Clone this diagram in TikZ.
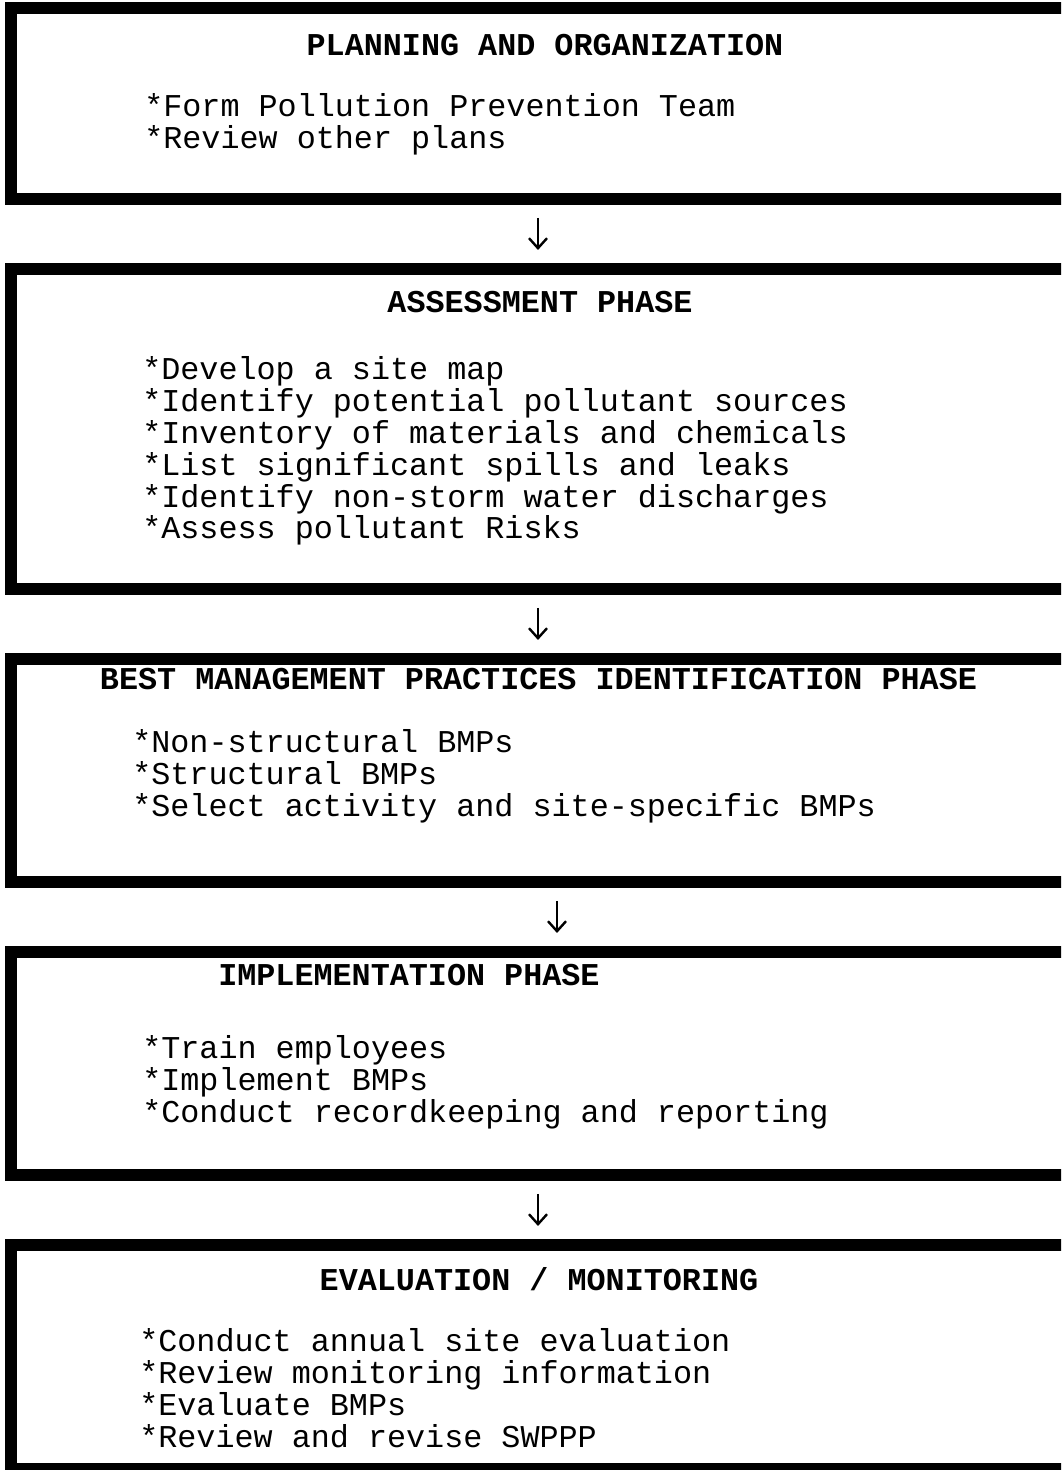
\documentclass[tikz,border=0pt]{standalone}
\usepackage{fontspec}
\setmonofont{Liberation Mono}
\usetikzlibrary{positioning,arrows.meta}
\tikzstyle{phasebox} = [rectangle, draw=black, line width=0.3cm, outer sep=0pt, minimum width=26.6cm]
\tikzstyle{head} = [font=\ttfamily\bfseries\fontsize{22.6}{22.6}\selectfont, anchor=base, inner sep=0pt]
\tikzstyle{item} = [font=\ttfamily\fontsize{22.6}{22.6}\selectfont, anchor=base west, inner sep=0pt]
\tikzstyle{flow} = [-{Straight Barb[length=0.25cm,width=0.45cm]}, line width=0.06cm, shorten <=0.475cm, shorten >=0.475cm]

\begin{document}
\begin{tikzpicture}
            \useasboundingbox (0,0) rectangle (26.525,36.75);
            \clip (0,0) rectangle (26.525,36.75);

            % Phase boxes
            \node(plan) [phasebox, minimum height=4.775cm] at (13.575,34.1625) {};
            \node(assess) [phasebox, minimum height=8cm, below=1.75cm of plan] {};
            \node(bmp) [phasebox, minimum height=5.575cm, below=1.75cm of assess] {};
            \node(implement) [phasebox, minimum height=5.575cm, below=1.75cm of bmp] {};
            \node(evaluate) [phasebox, minimum height=5.6cm, below=1.75cm of implement] {};

            % Headings
            \node(planhead) [head] at ([xshift=13.35cm, yshift=-1.2cm]plan.north west) {PLANNING AND ORGANIZATION};
            \node(assesshead) [head] at ([xshift=13.225cm, yshift=-1.1cm]assess.north west) {ASSESSMENT PHASE};
            \node(bmphead) [head] at ([xshift=13.1875cm, yshift=-0.7625cm]bmp.north west) {BEST MANAGEMENT PRACTICES IDENTIFICATION PHASE};
            \node(implementhead) [head, anchor=base west] at ([xshift=5.175cm, yshift=-0.85cm]implement.north west) {IMPLEMENTATION PHASE};
            \node(evaluatehead) [head] at ([xshift=13.2cm, yshift=-1.15cm]evaluate.north west) {EVALUATION / MONITORING};

            % Items
            \foreach \txt [count=\i] in {*Form Pollution Prevention Team, *Review other plans}
                \node(plan\i) [item] at ([xshift=3.325cm, yshift={-2.725cm-(\i-1)*0.795cm}]plan.north west) {\txt};
            \foreach \txt [count=\i] in {*Develop a site map, *Identify potential pollutant sources,
                    *Inventory of materials and chemicals, *List significant spills and leaks,
                    *Identify non-storm water discharges, *Assess pollutant Risks}
                \node(assess\i) [item] at ([xshift=3.275cm, yshift={-2.775cm-(\i-1)*0.795cm}]assess.north west) {\txt};
            \foreach \txt [count=\i] in {*Non-structural BMPs, *Structural BMPs, *Select activity and site-specific BMPs}
                \node(bmp\i) [item] at ([xshift=3.025cm, yshift={-2.35cm-(\i-1)*0.795cm}]bmp.north west) {\txt};
            \foreach \txt [count=\i] in {*Train employees, *Implement BMPs, *Conduct recordkeeping and reporting}
                \node(implement\i) [item] at ([xshift=3.275cm, yshift={-2.675cm-(\i-1)*0.795cm}]implement.north west) {\txt};
            \foreach \txt [count=\i] in {*Conduct annual site evaluation, *Review monitoring information,
                    *Evaluate BMPs, *Review and revise SWPPP}
                \node(evaluate\i) [item] at ([xshift=3.2cm, yshift={-2.675cm-(\i-1)*0.795cm}]evaluate.north west) {\txt};

            % Draw Arrows
            \draw[flow] ([xshift=-0.125cm]plan.south) -- ([xshift=-0.125cm]assess.north);
            \draw[flow] ([xshift=-0.125cm]assess.south) -- ([xshift=-0.125cm]bmp.north);
            \draw[flow] ([xshift=0.35cm]bmp.south) -- ([xshift=0.35cm]implement.north);
            \draw[flow] ([xshift=-0.125cm]implement.south) -- ([xshift=-0.125cm]evaluate.north);
\end{tikzpicture}
\end{document}
